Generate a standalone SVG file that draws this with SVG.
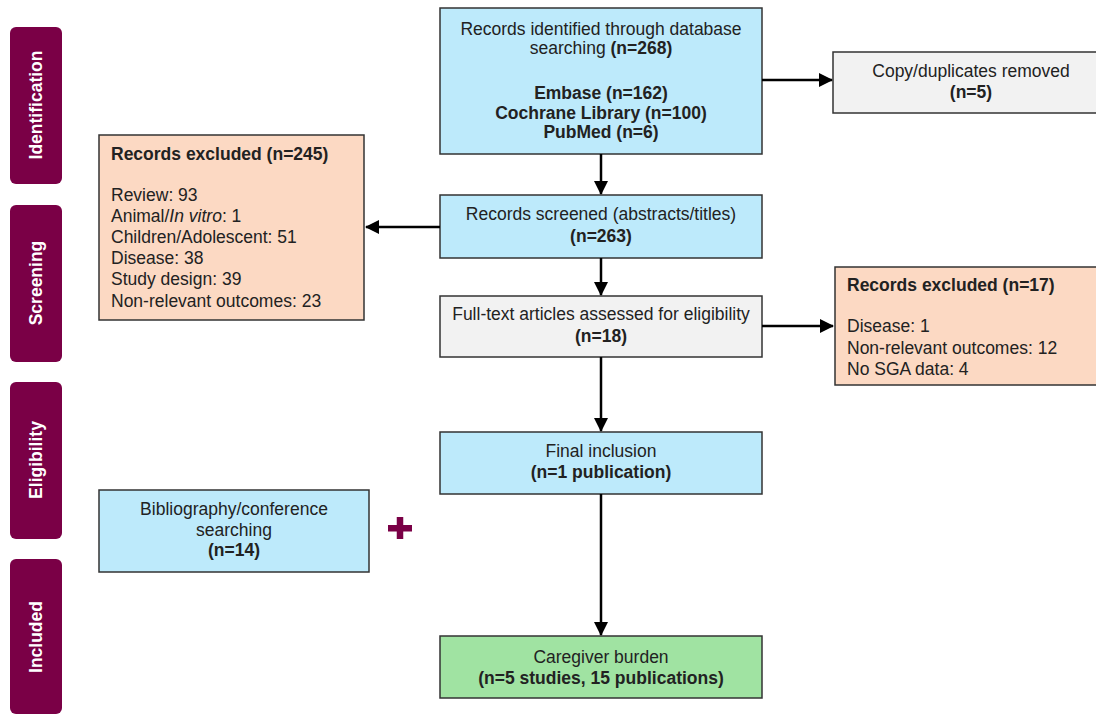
<svg xmlns="http://www.w3.org/2000/svg" width="1096" height="715" viewBox="0 0 1096 715">
<defs>
<marker id="ah" viewBox="0 0 14 14" refX="13" refY="7" markerWidth="14" markerHeight="14" markerUnits="userSpaceOnUse" orient="auto">
<path d="M0,0 L14,7 L0,14 Z" fill="#000"/>
</marker>
</defs>
<style>
.tab{fill:#7a0046;}
.tabt{fill:#fff;font-family:"Liberation Sans",Arial,sans-serif;font-weight:bold;font-size:17.5px;text-anchor:middle;}
.box{stroke:#333;stroke-width:1.5;}
.blue{fill:#bdeafb;}
.gray{fill:#f2f2f2;}
.salmon{fill:#fcd9c3;}
.green{fill:#a0e3a2;}
.t{font-family:"Liberation Sans",Arial,sans-serif;font-size:17.5px;fill:#222;}
.c{text-anchor:middle;}
.b{font-weight:bold;}
.conn line{stroke:#000;stroke-width:2.5;}
</style>
<rect width="1096" height="715" fill="#fff"/>
<g id="tab-identification"><rect class="tab" x="10" y="27" width="52" height="157" rx="6"/><text class="tabt" transform="translate(42,105) rotate(-90)">Identification</text></g>
<g id="tab-screening"><rect class="tab" x="10" y="205" width="52" height="157" rx="6"/><text class="tabt" transform="translate(42,283) rotate(-90)">Screening</text></g>
<g id="tab-eligibility"><rect class="tab" x="10" y="382" width="52" height="157" rx="6"/><text class="tabt" transform="translate(42,460) rotate(-90)">Eligibility</text></g>
<g id="tab-included"><rect class="tab" x="10" y="559" width="52" height="155" rx="6"/><text class="tabt" transform="translate(42,637) rotate(-90)">Included</text></g>

<g id="identified"><rect class="box blue" x="440" y="8" width="322" height="146"/>
<text class="t c" x="601" y="35">Records identified through database</text>
<text class="t c" x="601" y="54">searching <tspan class="b">(n=268)</tspan></text>
<text class="t c b" x="601" y="99">Embase (n=162)</text>
<text class="t c b" x="601" y="119">Cochrane Library (n=100)</text>
<text class="t c b" x="601" y="138">PubMed (n=6)</text></g>

<g id="duplicates"><rect class="box gray" x="833" y="52" width="265" height="61"/>
<text class="t c" x="971" y="77">Copy/duplicates removed</text>
<text class="t c b" x="971" y="98">(n=5)</text></g>

<g id="excluded245"><rect class="box salmon" x="99" y="135" width="265" height="185"/>
<text class="t b" x="111" y="160">Records excluded (n=245)</text>
<text class="t" x="111" y="201">Review: 93</text>
<text class="t" x="111" y="222">Animal/<tspan font-style="italic">In vitro</tspan>: 1</text>
<text class="t" x="111" y="243">Children/Adolescent: 51</text>
<text class="t" x="111" y="264">Disease: 38</text>
<text class="t" x="111" y="285">Study design: 39</text>
<text class="t" x="111" y="307">Non-relevant outcomes: 23</text></g>

<g id="screened"><rect class="box blue" x="440" y="195" width="322" height="63"/>
<text class="t c" x="601" y="220">Records screened (abstracts/titles)</text>
<text class="t c b" x="601" y="242">(n=263)</text></g>

<g id="fulltext"><rect class="box gray" x="440" y="296" width="322" height="61"/>
<text class="t c" x="601" y="320">Full-text articles assessed for eligibility</text>
<text class="t c b" x="601" y="342">(n=18)</text></g>

<g id="excluded17"><rect class="box salmon" x="835" y="267" width="263" height="118"/>
<text class="t b" x="847" y="291">Records excluded (n=17)</text>
<text class="t" x="847" y="332">Disease: 1</text>
<text class="t" x="847" y="354">Non-relevant outcomes: 12</text>
<text class="t" x="847" y="375">No SGA data: 4</text></g>

<g id="final"><rect class="box blue" x="440" y="432" width="322" height="62"/>
<text class="t c" x="601" y="457">Final inclusion</text>
<text class="t c b" x="601" y="478">(n=1 publication)</text></g>

<g id="bibliography"><rect class="box blue" x="99" y="490" width="270" height="82"/>
<text class="t c" x="234" y="515">Bibliography/conference</text>
<text class="t c" x="234" y="536">searching</text>
<text class="t c b" x="234" y="556">(n=14)</text></g>

<g id="plus"><rect x="388" y="525" width="24" height="6.5" fill="#7a0046"/><rect x="396.75" y="517" width="6.5" height="22" fill="#7a0046"/></g>

<g id="caregiver"><rect class="box green" x="440" y="636" width="322" height="62"/>
<text class="t c" x="601" y="663">Caregiver burden</text>
<text class="t c b" x="601" y="684">(n=5 studies, 15 publications)</text></g>

<g class="conn" id="connectors">
<line x1="762" y1="80" x2="832" y2="80" marker-end="url(#ah)"/>
<line x1="601" y1="154" x2="601" y2="194" marker-end="url(#ah)"/>
<line x1="440" y1="227" x2="366" y2="227" marker-end="url(#ah)"/>
<line x1="601" y1="258" x2="601" y2="295" marker-end="url(#ah)"/>
<line x1="762" y1="326" x2="833" y2="326" marker-end="url(#ah)"/>
<line x1="601" y1="357" x2="601" y2="431" marker-end="url(#ah)"/>
<line x1="601" y1="494" x2="601" y2="635" marker-end="url(#ah)"/>
</g>
</svg>
